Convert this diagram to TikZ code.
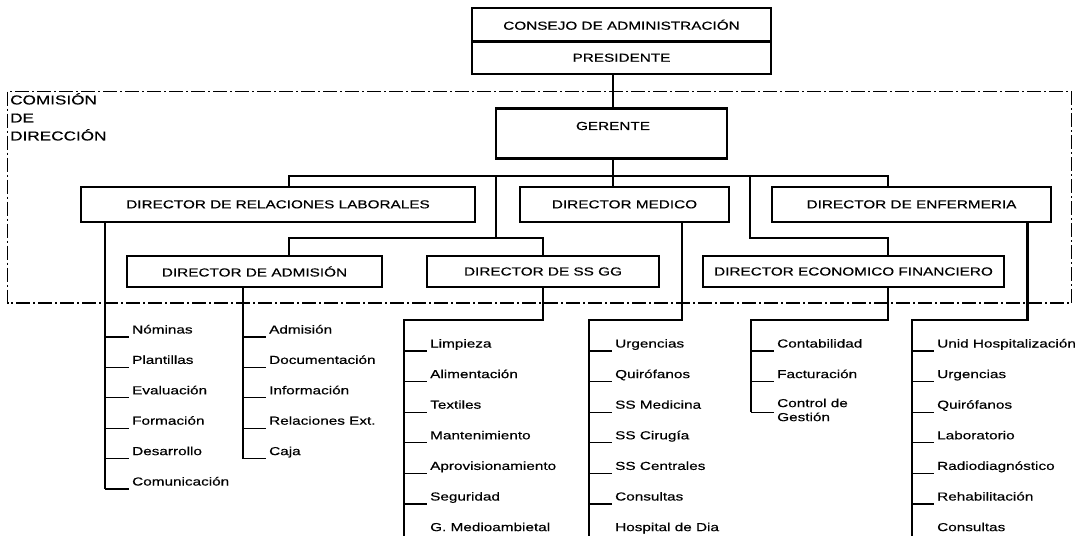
\documentclass[tikz,border=0pt]{standalone}
\usepackage{fontspec}
\setmainfont{Liberation Sans}[FakeStretch=1.32, FakeBold=0.4]
\begin{document}
\begin{tikzpicture}[x=1pt,y=-1pt,
  txt/.style={font=\fontsize{11.6}{14}\selectfont},
  orgbox/.style={draw, line width=2.2pt, fill=white, inner sep=0pt, txt},
  lbl/.style={inner sep=0pt, txt},
  conn/.style={line width=2pt},
  vline/.style={line width=2.4pt},
  tickln/.style={line width=1.3pt},
  item/.style={inner sep=0pt, anchor=base west, align=left, txt},
  comision/.style={line width=1.4pt, dash pattern=on 14pt off 3pt on 2pt off 3pt},
]
\useasboundingbox (0,0) rectangle (1083,535);
\fill[white] (0,0) rectangle (1083,535);
\clip (0,0) rectangle (1083,535);

% committee frame
\draw[comision] (7.6,91.5) rectangle (1071.6,303);
\node[anchor=north west, align=left, inner sep=0pt, font=\fontsize{13}{18}\selectfont]
  (comlabel) at (10,93) {COMISIÓN\\DE\\DIRECCIÓN};

% junction coordinates
\coordinate (spine) at (613,0);
\coordinate (busL) at (289,176);
\coordinate (busR) at (888,176);
\coordinate (midL) at (496,176);
\coordinate (midLlow) at (496,238);
\coordinate (midR) at (749.5,176);
\coordinate (midRlow) at (749.5,238);
\coordinate (floor) at (0,545);

% boxes
\node[orgbox, minimum width=299, minimum height=33.5] (consejo) at (621.5,24.75) {CONSEJO DE ADMINISTRACIÓN};
\node[orgbox, minimum width=299, minimum height=32.5] (pres) at (621.5,57.75) {PRESIDENTE};
\node[orgbox, minimum width=231, minimum height=50] (ger) at (611.5,133.5) {};
\node[lbl] (gertext) at (613,126) {GERENTE};

\node[orgbox, minimum width=394, minimum height=34.7] (drl) at (278,204.35) {DIRECTOR DE RELACIONES LABORALES};
\node[orgbox, minimum width=209, minimum height=34.7] (med) at (624.5,204.35) {DIRECTOR MEDICO};
\node[orgbox, minimum width=279, minimum height=34.7] (enf) at (911.5,204.35) {DIRECTOR DE ENFERMERIA};

\node[orgbox, minimum width=255, minimum height=31] (adm) at (254.5,271.5) {DIRECTOR DE ADMISIÓN};
\node[orgbox, minimum width=232, minimum height=31] (ssgg) at (543,271.5) {DIRECTOR DE SS GG};
\node[orgbox, minimum width=301, minimum height=31] (eco) at (853.5,271.5) {DIRECTOR ECONOMICO FINANCIERO};

% hierarchy connectors
\draw[conn] (spine |- pres.south) -- (spine |- ger.north);
\draw[conn] (spine |- ger.south) -- (spine |- med.north);
\draw[conn] (busL |- drl.north) -- (busL) -- (busR) -- (busR |- enf.north);
\draw[conn] (midL) -- (midLlow);
\draw[conn] (busL |- adm.north) -- (busL |- midLlow) -- (ssgg.north |- midLlow) -- (ssgg.north);
\draw[conn] (midR) -- (midRlow) -- (busR |- midRlow) -- (busR |- eco.north);

% lists: Relaciones Laborales
\foreach \t [count=\i] in {Nóminas, Plantillas, Evaluación, Formación, Desarrollo, Comunicación} {
  \coordinate (drlt\i) at (105,{337+30.4*(\i-1)});
  \node[item] (drl\i) at (132,{333.5+30.4*(\i-1)}) {\t};
  \draw[tickln] (drlt\i) -- ([xshift=-3pt,yshift=-3.5pt]drl\i.base west);
}
\coordinate (drlv) at (105,0);
\draw[vline] (drlv |- drl.south) -- (drlt6);

% lists: Admisión
\foreach \t [count=\i] in {Admisión, Documentación, Información, Relaciones Ext., Caja} {
  \coordinate (admt\i) at (243,{337+30.4*(\i-1)});
  \node[item] (adm\i) at (269,{333.5+30.4*(\i-1)}) {\t};
  \draw[tickln] (admt\i) -- ([xshift=-3pt,yshift=-3.5pt]adm\i.base west);
}
\coordinate (admv) at (243,0);
\draw[vline] (admv |- adm.south) -- (admt5);

% lists: SS GG
\foreach \t [count=\i] in {Limpieza, Alimentación, Textiles, Mantenimiento, Aprovisionamiento, Seguridad, G. Medioambietal} {
  \coordinate (ssgt\i) at (404,{351+30.6*(\i-1)});
  \node[item] (ssg\i) at (430,{347.5+30.6*(\i-1)}) {\t};
  \ifnum\i<7 \draw[tickln] (ssgt\i) -- ([xshift=-3pt,yshift=-3.5pt]ssg\i.base west);\fi
}
\coordinate (ssgv) at (404,320);
\draw[vline] (ssgg.south) -- (ssgg.south |- ssgv) -- (ssgv) -- (ssgv |- floor);

% lists: Médico
\foreach \t [count=\i] in {Urgencias, Quirófanos, SS Medicina, SS Cirugía, SS Centrales, Consultas, Hospital de Dia} {
  \coordinate (medt\i) at (589,{351+30.6*(\i-1)});
  \node[item] (med\i) at (615,{347.5+30.6*(\i-1)}) {\t};
  \ifnum\i<7 \draw[tickln] (medt\i) -- ([xshift=-3pt,yshift=-3.5pt]med\i.base west);\fi
}
\coordinate (medd) at (682,0);
\coordinate (medv) at (589,320);
\draw[vline] (medd |- med.south) -- (medd |- medv) -- (medv) -- (medv |- floor);

% lists: Económico Financiero
\foreach \t [count=\i] in {Contabilidad, Facturación} {
  \coordinate (ecot\i) at (751,{351+30.6*(\i-1)});
  \node[item] (eco\i) at (777,{347.5+30.6*(\i-1)}) {\t};
  \draw[tickln] (ecot\i) -- ([xshift=-3pt,yshift=-3.5pt]eco\i.base west);
}
\coordinate (ecot3) at (751,412.2);
\node[inner sep=0pt, anchor=north west, align=left, txt] (eco3) at (777,398.5) {Control de\\Gestión};
\draw[tickln] (ecot3) -- ++(23,0);
\coordinate (ecov) at (751,320);
\draw[vline] (busR |- eco.south) -- (busR |- ecov) -- (ecov) -- (ecot3);

% lists: Enfermería
\foreach \t [count=\i] in {Unid Hospitalización, Urgencias, Quirófanos, Laboratorio, Radiodiagnóstico, Rehabilitación, Consultas} {
  \coordinate (enft\i) at (912,{351+30.6*(\i-1)});
  \node[item] (enf\i) at (937,{347.5+30.6*(\i-1)}) {\t};
  \ifnum\i<7 \draw[tickln] (enft\i) -- ([xshift=-3pt,yshift=-3.5pt]enf\i.base west);\fi
}
\coordinate (enfd) at (1027.6,0);
\coordinate (enfv) at (912,320);
\draw[vline] (enfd |- enf.south) -- (enfd |- enfv) -- (enfv) -- (enfv |- floor);
\end{tikzpicture}
\end{document}
